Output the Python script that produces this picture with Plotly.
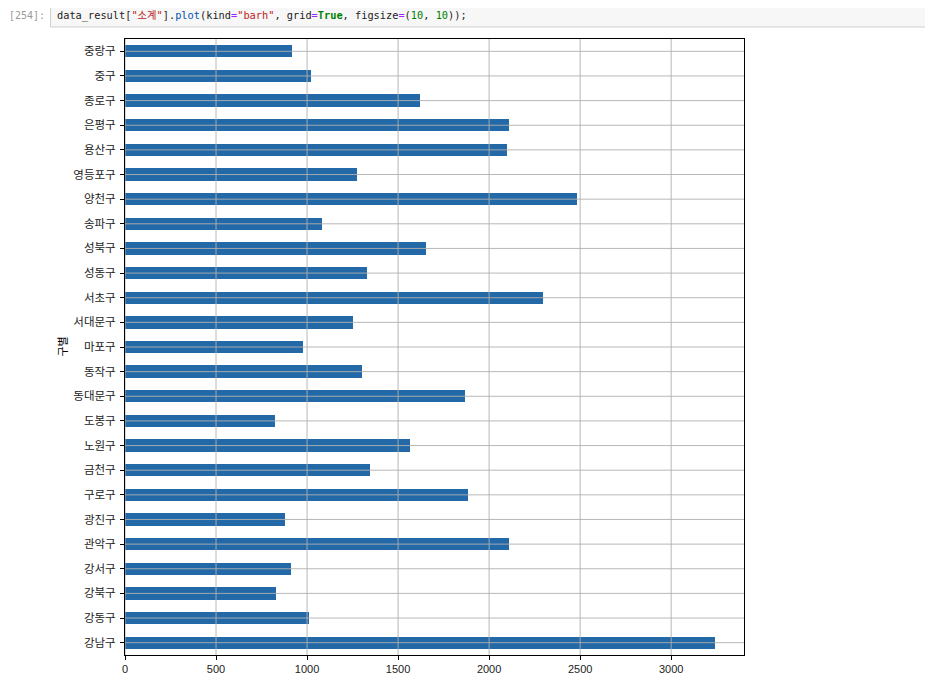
import plotly.graph_objects as go

# ---- data ----
districts = ["강남구", "강동구", "강북구", "강서구", "관악구", "광진구", "구로구", "금천구",
             "노원구", "도봉구", "동대문구", "동작구", "마포구", "서대문구", "서초구", "성동구",
             "성북구", "송파구", "양천구", "영등포구", "용산구", "은평구", "종로구", "중구", "중랑구"]
subtotal = [3238, 1010, 831, 911, 2109, 878, 1884, 1348,
            1566, 825, 1870, 1302, 980, 1254, 2297, 1327,
            1651, 1081, 2482, 1277, 2096, 2108, 1619, 1023, 916]
x_ticks = [0, 500, 1000, 1500, 2000, 2500, 3000]
y_title = "구별"

OFF = 8  # page body margin
W, H = 933 - OFF, 689 - OFF
L, R, T, B = 124.5 - OFF, 744 - OFF, 39 - OFF, 655 - OFF

def px(xp):
    return (xp - OFF - L) / (R - L)

def py(yp):
    return (B - (yp - OFF)) / (B - T)

FONT = "Liberation Sans, Noto Sans CJK KR, sans-serif"
BAR = "#2369a8"
GRID = "#b0b0b0"

fig = go.Figure()
fig.add_trace(go.Bar(
    x=subtotal, y=districts, orientation="h", width=0.5,
    marker=dict(color=BAR, line=dict(width=0)),
))

shapes = []
for t in x_ticks:
    shapes.append(dict(type="line", xref="x", yref="paper", x0=t, x1=t, y0=0, y1=1,
                       line=dict(color=GRID, width=0.9), layer="above"))
for d in districts:
    shapes.append(dict(type="line", xref="paper", yref="y", x0=0, x1=1, y0=d, y1=d,
                       line=dict(color=GRID, width=0.9), layer="above"))
# notebook code cell box
shapes.append(dict(type="rect", xref="paper", yref="paper",
                   x0=px(50), x1=px(928), y0=py(27), y1=py(4),
                   fillcolor="#f7f7f7", line=dict(color="#cfcfcf", width=1), layer="below"))

MONO = "DejaVu Sans Mono, Noto Sans CJK KR, monospace"
code = ('data_result[<span style="color:#ba2121">"소계"</span>].'
        '<span style="color:#0055aa">plot</span>(kind<span style="color:#aa22ff">=</span>'
        '<span style="color:#ba2121">"barh"</span>, grid<span style="color:#aa22ff">=</span>'
        '<span style="color:#008000"><b>True</b></span>, figsize<span style="color:#aa22ff">=</span>'
        '(<span style="color:#008000">10</span>, <span style="color:#008000">10</span>));')

annotations = [
    dict(text="[254]:", xref="paper", yref="paper", x=px(46), y=py(15.5),
         xanchor="right", yanchor="middle", showarrow=False,
         font=dict(family=MONO, size=10, color="#9a9a9a")),
    dict(text=code, xref="paper", yref="paper", x=px(54), y=py(15.5),
         xanchor="left", yanchor="middle", showarrow=False,
         font=dict(family=MONO, size=10.3, color="#222222")),
    dict(text=y_title, xref="paper", yref="paper", x=px(62), y=0.5,
         xanchor="center", yanchor="middle", textangle=-90, showarrow=False,
         font=dict(family=FONT, size=11, color="#000000")),
]

fig.update_layout(
    width=W, height=H,
    margin=dict(l=L, r=W - R, t=T, b=H - B, pad=0),
    paper_bgcolor="white", plot_bgcolor="white",
    showlegend=False,
    shapes=shapes, annotations=annotations,
    font=dict(family=FONT, size=11, color="#000000"),
    bargap=0,
    xaxis=dict(range=[0, 3400], tickvals=x_ticks, showgrid=False, zeroline=False,
               showline=True, mirror=True, linecolor="#000000", linewidth=1,
               ticks="outside", ticklen=4, tickcolor="#000000", tickwidth=1,
               tickfont=dict(family=FONT, size=11, color="#222222")),
    yaxis=dict(type="category", categoryorder="array", categoryarray=districts,
               range=[-0.5, 24.5], showgrid=False, zeroline=False,
               showline=True, mirror=True, linecolor="#000000", linewidth=1,
               ticks="outside", ticklen=4, tickcolor="#000000", tickwidth=1,
               ticklabelstandoff=2,
               tickfont=dict(family=FONT, size=11.5, color="#222222")),
)

fig.write_html("out.html")
